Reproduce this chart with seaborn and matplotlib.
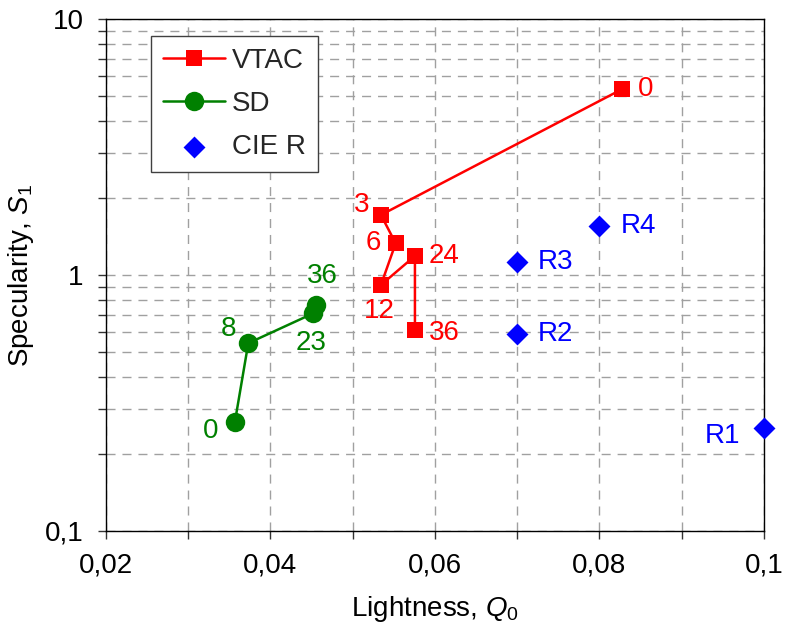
import matplotlib
matplotlib.use("Agg")
import matplotlib.pyplot as plt
from matplotlib.ticker import FixedLocator, FuncFormatter, LogLocator, NullFormatter
import seaborn as sns

# VTAC series
vtac_q0 = [0.0827, 0.05345, 0.05524, 0.05345, 0.05758, 0.05758]
vtac_s1 = [5.32, 1.717, 1.33, 0.914, 1.187, 0.609]
vtac_tags = ["0", "3", "6", "12", "24", "36"]

# SD series
sd_q0 = [0.03571, 0.03733, 0.04523, 0.04555]
sd_s1 = [0.267, 0.541, 0.708, 0.763]
sd_tags = ["0", "8", "23", "36"]

# CIE reference points
cie_q0 = [0.1, 0.07, 0.07, 0.08]
cie_s1 = [0.253, 0.588, 1.121, 1.559]
cie_tags = ["R1", "R2", "R3", "R4"]

x_ticks = [0.02, 0.04, 0.06, 0.08, 0.1]
y_ticks = [0.1, 1, 10]

sns.set_theme(style="white")
plt.rcParams["font.family"] = ["Liberation Sans", "DejaVu Sans"]
plt.rcParams["mathtext.fontset"] = "custom"
plt.rcParams["mathtext.rm"] = "Liberation Sans"
plt.rcParams["mathtext.it"] = "Liberation Sans:italic"

FS = 20
RED, GREEN, BLUE = "#ff0000", "#008000", "#0000ff"

fig = plt.figure(figsize=(7.85, 6.43), dpi=100)
ax = fig.add_axes([0.1346, 0.1747, 0.8387, 0.7953])

sns.lineplot(x=vtac_q0, y=vtac_s1, sort=False, estimator=None, ax=ax,
             color=RED, lw=1.8, marker="s", markersize=11.5,
             markeredgecolor=RED, markeredgewidth=0, label="VTAC", zorder=4)
sns.lineplot(x=sd_q0, y=sd_s1, sort=False, estimator=None, ax=ax,
             color=GREEN, lw=1.8, marker="o", markersize=14,
             markeredgecolor=GREEN, markeredgewidth=0, label="SD", zorder=4)
sns.scatterplot(x=cie_q0, y=cie_s1, ax=ax, color=BLUE, marker="D", s=125,
                linewidth=0, label="CIE R", zorder=4, clip_on=False)

ax.set_yscale("log")
ax.set_xlim(0.02, 0.1)
ax.set_ylim(0.1, 10)


def comma(v, _pos=None):
    return f"{v:g}".replace(".", ",")


ax.xaxis.set_major_locator(FixedLocator(x_ticks))
ax.xaxis.set_minor_locator(FixedLocator([0.03, 0.05, 0.07, 0.09]))
ax.xaxis.set_major_formatter(FuncFormatter(comma))
ax.yaxis.set_major_locator(FixedLocator(y_ticks))
ax.yaxis.set_minor_locator(LogLocator(base=10, subs=range(2, 10)))
ax.yaxis.set_major_formatter(FuncFormatter(comma))
ax.yaxis.set_minor_formatter(NullFormatter())

ax.tick_params(which="both", direction="out", length=6, width=1.0,
               color="#333333", labelsize=FS, labelcolor="black", pad=10,
               bottom=True, left=True)

ax.grid(True, which="both", axis="both", color="#a0a0a0", lw=1.0,
        linestyle=(0, (6.5, 5)))
ax.set_axisbelow(True)

for sp in ax.spines.values():
    sp.set_visible(True)
    sp.set_color("black")
    sp.set_linewidth(1.0)

ax.set_xlabel("Lightness, $Q_0$", fontsize=FS, color="black", labelpad=11)
ax.set_ylabel("Specularity, $S_1$", fontsize=FS, color="black", labelpad=6)

# Point tags (offsets in points)
vtac_off = [(12, 0, "left"), (-14, 7, "center"), (-16, 0, "center"),
            (-1, -18.5, "center"), (21, 0, "center"), (21, -2, "center")]
for x, y, t, (dx, dy, ha) in zip(vtac_q0, vtac_s1, vtac_tags, vtac_off):
    ax.annotate(t, (x, y), xytext=(dx, dy), textcoords="offset points",
                ha=ha, va="center", color=RED, fontsize=FS, zorder=5)

sd_off = [(-17.5, -7, "center"), (-14.5, 10, "center"),
          (-1.5, -21.5, "center"), (4.5, 21, "center")]
for x, y, t, (dx, dy, ha) in zip(sd_q0, sd_s1, sd_tags, sd_off):
    ax.annotate(t, (x, y), xytext=(dx, dy), textcoords="offset points",
                ha=ha, va="center", color=GREEN, fontsize=FS, zorder=5)

cie_off = [(-17, -6, "right"), (15, 0, "left"), (15, 0, "left"), (15, 0, "left")]
for x, y, t, (dx, dy, ha) in zip(cie_q0, cie_s1, cie_tags, cie_off):
    ax.annotate(t, (x, y), xytext=(dx, dy), textcoords="offset points",
                ha=ha, va="center", color=BLUE, fontsize=FS, zorder=5,
                annotation_clip=False)

leg = ax.legend(loc="upper left", bbox_to_anchor=(0.0688, 0.967),
                borderaxespad=0, fontsize=FS, frameon=True, fancybox=False,
                shadow=False, handlelength=2.25, handletextpad=0.25,
                labelspacing=0.62, borderpad=0.42, scatterpoints=1)
leg.get_frame().set_edgecolor("#404040")
leg.get_frame().set_linewidth(1.0)
leg.get_frame().set_facecolor("white")
leg.get_frame().set_alpha(1)
leg.set_zorder(6)

fig.savefig("out.png", dpi=100, facecolor="white")
